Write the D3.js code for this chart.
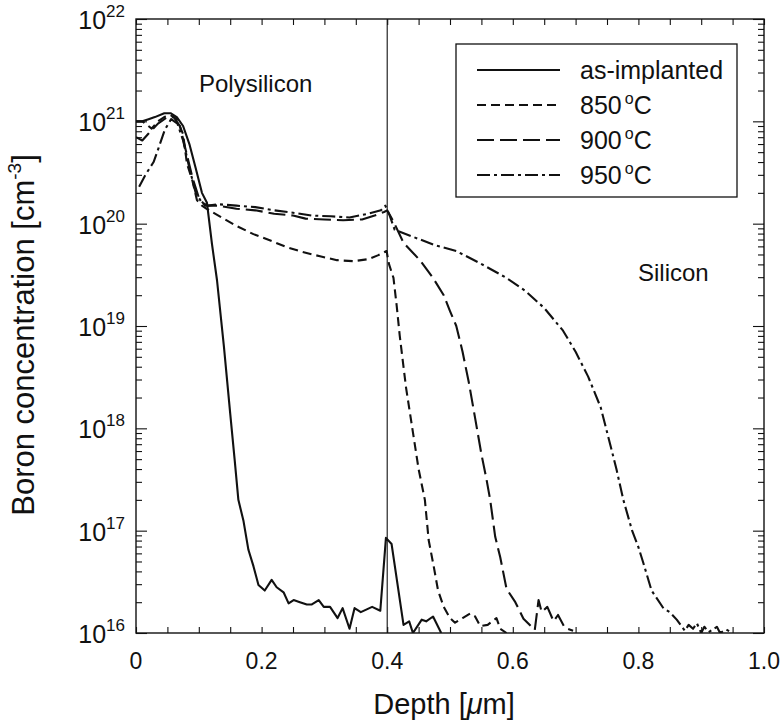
<!DOCTYPE html>
<html>
<head>
<meta charset="utf-8">
<script src="https://cdnjs.cloudflare.com/ajax/libs/d3/7.8.5/d3.min.js"></script>
<style>
  html, body { margin: 0; padding: 0; background: #fff; }
  text { font-family: "Liberation Sans", Arial, Helvetica, sans-serif; fill: #111; }
</style>
</head>
<body>
<svg id="chart" width="784" height="727"></svg>
<script>
// ---------- data ----------
const seriesNames = ["as-implanted", "850", "900", "950"];
const xTicks = [0, 0.2, 0.4, 0.6, 0.8, 1.0];
const xTickLabels = ["0", "0.2", "0.4", "0.6", "0.8", "1.0"];
const yExponents = [16, 17, 18, 19, 20, 21, 22];

const asImplanted = [
  [0,1.0e21],[0.01,1.0e21],[0.02,1.05e21],[0.03,1.1e21],[0.045,1.2e21],[0.055,1.2e21],
  [0.065,1.1e21],[0.075,9e20],[0.085,6e20],[0.095,3.5e20],[0.105,2.0e20],[0.113,1.6e20],
  [0.121,6.3e19],[0.129,2.8e19],[0.14,6.3e18],[0.15,1.4e18],[0.157,5e17],[0.163,2e17],
  [0.171,1.26e17],[0.179,6.5e16],[0.187,4.5e16],[0.195,2.95e16],[0.205,2.6e16],[0.216,3.3e16],
  [0.224,2.8e16],[0.235,2.5e16],[0.243,1.95e16],[0.251,2.1e16],[0.261,2.0e16],[0.272,1.9e16],
  [0.28,1.9e16],[0.291,2.1e16],[0.299,1.8e16],[0.309,1.8e16],[0.321,1.4e16],[0.329,1.75e16],
  [0.34,1.1e16],[0.348,1.75e16],[0.358,1.6e16],[0.376,1.8e16],[0.389,1.65e16],[0.398,8.5e16],
  [0.407,7.4e16],[0.426,1.2e16],[0.435,1.3e16],[0.441,1.0e16],[0.455,1.35e16],[0.462,1.3e16],
  [0.473,1.45e16],[0.486,1.0e16]
];
const t850 = [
  [0,1.0e21],[0.01,1.0e21],[0.025,8.5e20],[0.035,1.0e21],[0.045,1.1e21],[0.055,1.15e21],
  [0.065,1.05e21],[0.075,7.5e20],[0.081,3.9e20],[0.09,2.6e20],[0.097,1.7e20],[0.105,1.5e20],
  [0.112,1.4e20],[0.134,1.17e20],[0.16,9.5e19],[0.187,7.9e19],[0.215,6.8e19],[0.24,5.9e19],
  [0.265,5.3e19],[0.293,4.8e19],[0.32,4.4e19],[0.346,4.3e19],[0.37,4.5e19],[0.385,4.9e19],
  [0.399,5.4e19],[0.403,4.0e19],[0.41,2.95e19],[0.415,1.6e19],[0.42,8e18],[0.43,2.5e18],
  [0.44,1e18],[0.45,4e17],[0.46,2e17],[0.466,8.1e16],[0.474,4.5e16],[0.481,2.6e16],
  [0.49,1.8e16],[0.5,1.4e16],[0.508,1.26e16],[0.52,1.4e16],[0.532,1.55e16],[0.54,1.45e16],
  [0.548,1.17e16],[0.56,1.2e16],[0.574,1.4e16],[0.58,1.1e16],[0.59,1.0e16]
];
const t900 = [
  [0,7e20],[0.01,6.5e20],[0.02,7.6e20],[0.035,9.5e20],[0.05,1.1e21],[0.06,1.1e21],
  [0.07,9e20],[0.08,5e20],[0.09,2.8e20],[0.1,1.8e20],[0.11,1.5e20],[0.13,1.5e20],
  [0.16,1.4e20],[0.19,1.35e20],[0.22,1.25e20],[0.25,1.2e20],[0.27,1.12e20],[0.3,1.1e20],
  [0.33,1.08e20],[0.36,1.1e20],[0.38,1.2e20],[0.395,1.3e20],[0.4,1.35e20],[0.41,1.05e20],
  [0.426,6.5e19],[0.452,4.4e19],[0.473,2.95e19],[0.49,2e19],[0.5,1.4e19],[0.51,1e19],
  [0.52,5.6e18],[0.53,2.8e18],[0.54,1.26e18],[0.55,5.6e17],[0.558,3.2e17],[0.564,2e17],
  [0.572,8.7e16],[0.58,5.5e16],[0.59,2.7e16],[0.604,2e16],[0.617,1.38e16],[0.635,1.07e16],
  [0.641,2.1e16],[0.646,1.6e16],[0.655,1.8e16],[0.665,1.3e16],[0.672,1.5e16],[0.683,1.12e16],
  [0.696,1.05e16]
];
const t950 = [
  [0.005,2.3e20],[0.015,3e20],[0.028,4.0e20],[0.036,5.5e20],[0.046,8.3e20],[0.056,1.05e21],
  [0.066,9.5e20],[0.075,6.5e20],[0.085,3.5e20],[0.095,2.0e20],[0.105,1.6e20],[0.115,1.5e20],
  [0.13,1.55e20],[0.16,1.5e20],[0.19,1.45e20],[0.22,1.35e20],[0.25,1.28e20],[0.28,1.2e20],
  [0.31,1.18e20],[0.34,1.15e20],[0.37,1.25e20],[0.39,1.35e20],[0.397,1.5e20],[0.404,1.2e20],
  [0.412,8.7e19],[0.442,7.4e19],[0.475,6.2e19],[0.51,5.4e19],[0.548,4.1e19],[0.59,2.95e19],
  [0.62,2.2e19],[0.65,1.5e19],[0.68,9e18],[0.70,5.6e18],[0.72,3.2e18],[0.74,1.6e18],
  [0.755,7e17],[0.765,4e17],[0.776,2e17],[0.79,1.0e17],[0.8,6.9e16],[0.808,4.8e16],
  [0.821,2.6e16],[0.84,1.74e16],[0.85,1.6e16],[0.861,1.35e16],[0.874,1.05e16],[0.88,1.2e16],
  [0.887,1.1e16],[0.893,1.25e16],[0.9,1.0e16],[0.905,1.15e16],[0.912,1.02e16],[0.925,1.15e16],
  [0.93,1.0e16],[0.94,1.08e16],[0.95,1.0e16]
];
const interfaceDepth = 0.4;

// ---------- layout ----------
const svg = d3.select("#chart");
const L = 136, R = 764, T = 19, B = 633;
const x = d3.scaleLinear().domain([0, 1]).range([L, R]);
const y = d3.scaleLog().domain([1e16, 1e22]).range([B, T]);

svg.append("rect").attr("width", 784).attr("height", 727).attr("fill", "#fff");

svg.append("clipPath").attr("id", "clip")
  .append("rect").attr("x", L).attr("y", T).attr("width", R - L).attr("height", B - T);

// minor / major ticks
const majorY = yExponents.map(e => Math.pow(10, e));
const minorY = [];
for (let e = 16; e < 22; e++) for (let m = 2; m <= 9; m++) minorY.push(m * Math.pow(10, e));
const minorX = d3.range(0, 1.0001, 0.05).map(v => +v.toFixed(2));

function styleAxis(g) {
  g.select(".domain").remove();
  g.selectAll("line").attr("stroke", "#111").attr("stroke-width", 1.1);
  g.selectAll("text").remove();
}
svg.append("g").attr("transform", `translate(${L},0)`)
  .call(d3.axisLeft(y).tickValues(minorY).tickSize(-6).tickFormat("")).call(styleAxis);
svg.append("g").attr("transform", `translate(${L},0)`)
  .call(d3.axisLeft(y).tickValues(majorY).tickSize(-11).tickFormat("")).call(styleAxis);
svg.append("g").attr("transform", `translate(${R},0)`)
  .call(d3.axisRight(y).tickValues(minorY).tickSize(-6).tickFormat("")).call(styleAxis);
svg.append("g").attr("transform", `translate(${R},0)`)
  .call(d3.axisRight(y).tickValues(majorY).tickSize(-11).tickFormat("")).call(styleAxis);
svg.append("g").attr("transform", `translate(0,${B})`)
  .call(d3.axisBottom(x).tickValues(minorX).tickSize(-6).tickFormat("")).call(styleAxis);
svg.append("g").attr("transform", `translate(0,${T})`)
  .call(d3.axisTop(x).tickValues(minorX).tickSize(-6).tickFormat("")).call(styleAxis);

// frame
svg.append("rect").attr("x", L).attr("y", T).attr("width", R - L).attr("height", B - T)
  .attr("fill", "none").attr("stroke", "#111").attr("stroke-width", 1.4);

// x tick labels
svg.append("g").selectAll("text").data(xTicks).join("text")
  .attr("x", d => x(d)).attr("y", B + 36)
  .attr("text-anchor", "middle").attr("font-size", 23)
  .text((d, i) => xTickLabels[i]);

// y tick labels
const yl = svg.append("g").selectAll("text").data(yExponents).join("text")
  .attr("x", L - 11).attr("y", d => y(Math.pow(10, d)) + 10)
  .attr("text-anchor", "end").attr("font-size", 25);
yl.append("tspan").text("10");
yl.append("tspan").attr("dy", -12).attr("font-size", 17).text(d => d);

// axis titles
const xt = svg.append("text").attr("x", 444).attr("y", 714)
  .attr("text-anchor", "middle").attr("font-size", 29);
xt.append("tspan").text("Depth [");
xt.append("tspan").attr("font-style", "italic").text("\u03BC");
xt.append("tspan").text("m]");

const ytl = svg.append("text").attr("transform", `translate(34,335) rotate(-90)`)
  .attr("text-anchor", "middle").attr("font-size", 31);
ytl.append("tspan").text("Boron concentration [cm");
ytl.append("tspan").attr("dy", -13).attr("font-size", 19).text("-3");
ytl.append("tspan").attr("dy", 13).text("]");

// interface line
svg.append("line").attr("x1", x(interfaceDepth)).attr("x2", x(interfaceDepth))
  .attr("y1", T).attr("y2", B).attr("stroke", "#111").attr("stroke-width", 1.1);

// region labels
svg.append("text").attr("x", 199).attr("y", 92).attr("font-size", 24).text("Polysilicon");
svg.append("text").attr("x", 638).attr("y", 281).attr("font-size", 24).text("Silicon");

// curves
const dashes = ["none", "9,5", "17,6", "13,4,3,4"];
const allSeries = [asImplanted, t850, t900, t950];
const line = d3.line().x(d => x(d[0])).y(d => y(d[1]));
svg.append("g").attr("clip-path", "url(#clip)").selectAll("path").data(allSeries).join("path")
  .attr("d", line).attr("fill", "none").attr("stroke", "#111")
  .attr("stroke-width", 2.1).attr("stroke-linejoin", "round")
  .attr("stroke-dasharray", (d, i) => dashes[i]);

// legend
const lg = svg.append("g");
lg.append("rect").attr("x", 456).attr("y", 44).attr("width", 281).attr("height", 153)
  .attr("fill", "#fff").attr("stroke", "#111").attr("stroke-width", 1.3);
const rows = lg.selectAll("g.row").data(seriesNames).join("g").attr("class", "row")
  .attr("transform", (d, i) => `translate(0,${70 + i * 35})`);
rows.append("line").attr("x1", 477).attr("x2", 560).attr("y1", 0).attr("y2", 0)
  .attr("stroke", "#111").attr("stroke-width", 2.1)
  .attr("stroke-dasharray", (d, i) => dashes[i]);
const rt = rows.append("text").attr("x", 580).attr("y", 9).attr("font-size", 25);
rt.each(function(d, i) {
  const t = d3.select(this);
  if (i === 0) { t.text(d); return; }
  t.append("tspan").text(d);
  t.append("tspan").attr("dx", 3).attr("dy", -10).attr("font-size", 16).text("o");
  t.append("tspan").attr("dy", 10).text("C");
});
</script>
</body>
</html>
